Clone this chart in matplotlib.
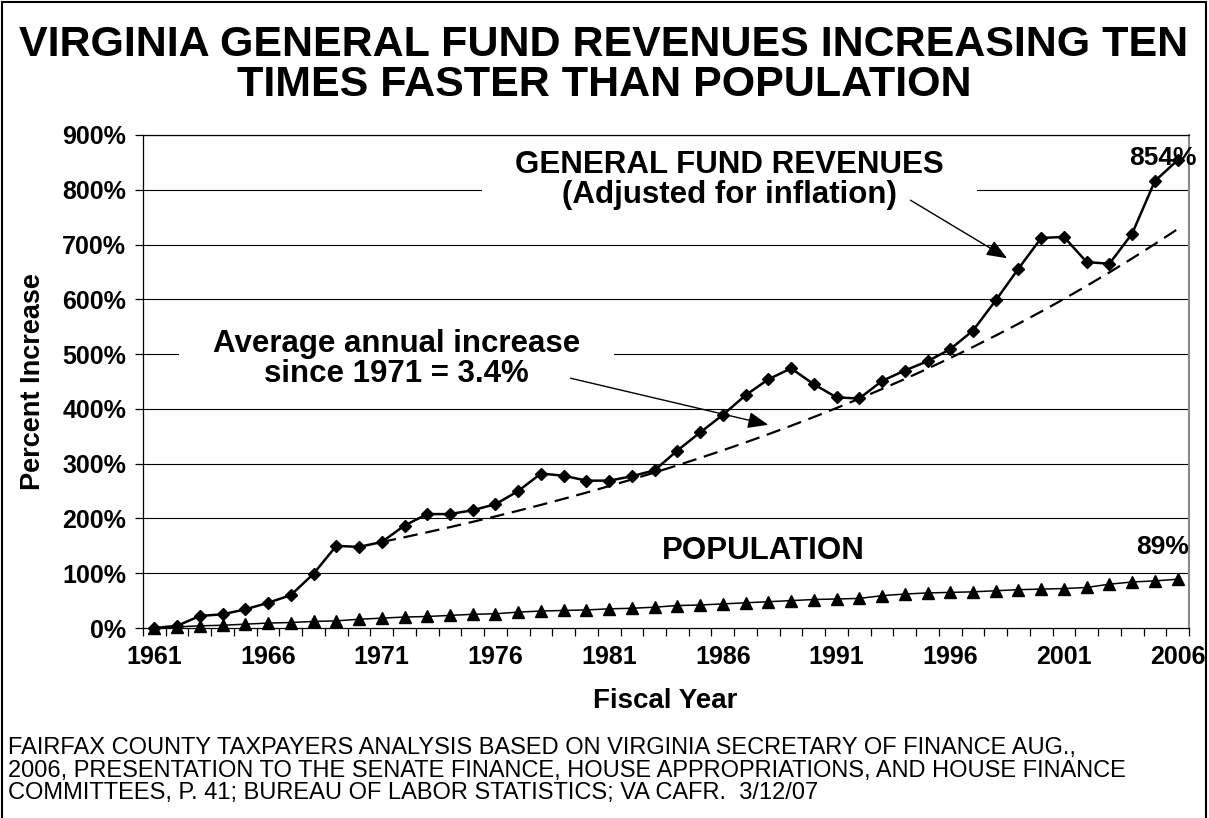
import matplotlib
matplotlib.use("Agg")
import matplotlib.pyplot as plt
from matplotlib.patches import Rectangle
from matplotlib.ticker import FixedLocator, FuncFormatter

# Fiscal years and percent increase since 1961
years = list(range(1961, 2007))
revenue_pct = [0, 4, 22, 25, 34, 46, 60, 99, 150, 148, 157, 187, 208, 208, 215,
               226, 250, 282, 278, 269, 269, 277, 288, 324, 357, 389, 425, 454, 474, 445,
               421, 419, 451, 470, 487, 509, 543, 598, 656, 712, 714, 668, 665, 720, 816, 854]
population_pct = [0, 2, 4, 5, 7, 9, 10, 12, 13, 16, 18, 20, 21, 23, 25,
                  26, 29, 31, 32, 33, 35, 36, 38, 41, 42, 44, 46, 48, 50, 52,
                  53, 54, 59, 62, 64, 65, 66, 68, 70, 71, 72, 74, 80, 84, 86, 89]

# Trend: average annual real growth since 1971
trend_start_year = 1971
trend_rate = 0.034

xtick_labels = [1961, 1966, 1971, 1976, 1981, 1986, 1991, 1996, 2001, 2006]
ytick_values = [0, 100, 200, 300, 400, 500, 600, 700, 800, 900]

FONT = "Liberation Sans"
W, H = 1209, 818
fig = plt.figure(figsize=(W / 100, H / 100), dpi=100)
fig.patch.set_facecolor("white")

# plot area in pixel units
px_l, px_r, px_t, px_b = 143, 1189, 135, 628
ax = fig.add_axes([px_l / W, 1 - px_b / H, (px_r - px_l) / W, (px_b - px_t) / H])
ax.set_xlim(1960.5, 2006.5)
ax.set_ylim(0, 900)

# gridlines
ax.set_axisbelow(True)
for v in ytick_values[1:]:
    ax.axhline(v, color="black", lw=0.8, zorder=1)

# trend line from the stated rate
start_idx = years.index(trend_start_year)
base = revenue_pct[start_idx]
trend_years = years[start_idx:]
trend_vals = [((1 + base / 100) * (1 + trend_rate) ** (y - trend_start_year) - 1) * 100
              for y in trend_years]
ax.plot(trend_years, trend_vals, color="black", lw=1.6, ls=(0, (6.5, 3.5)), zorder=3)

ax.plot(years, revenue_pct, color="black", lw=1.8, marker="D", markersize=6,
        zorder=4, clip_on=False)
ax.plot(years, population_pct, color="black", lw=1.1, marker="^", markersize=8.5,
        zorder=4, clip_on=False)

# axes styling
for side in ["left", "bottom", "top"]:
    ax.spines[side].set_color("black")
    ax.spines[side].set_linewidth(0.9)
ax.spines["right"].set_color("#8a8a8a")
ax.spines["right"].set_linewidth(1.5)

ax.xaxis.set_major_locator(FixedLocator(xtick_labels))
ax.xaxis.set_minor_locator(FixedLocator([y - 0.5 for y in years] + [2006.5]))
ax.tick_params(axis="x", which="major", length=0, pad=12)
ax.tick_params(axis="x", which="minor", length=6, width=0.9, direction="out")
ax.yaxis.set_major_locator(FixedLocator(ytick_values))
ax.yaxis.set_major_formatter(FuncFormatter(lambda v, p: f"{int(v)}%"))
ax.tick_params(axis="y", which="major", length=6, width=0.9, pad=6, direction="out")
for lab in ax.get_xticklabels() + ax.get_yticklabels():
    lab.set_fontfamily(FONT)
    lab.set_fontweight("bold")
    lab.set_fontsize(18)

ax.set_ylabel("Percent Increase", fontfamily=FONT, fontweight="bold", fontsize=19.5)
ax.yaxis.set_label_coords((46 - px_l) / (px_r - px_l), 0.5)
ax.set_xlabel("Fiscal Year", fontfamily=FONT, fontweight="bold", fontsize=20)
ax.xaxis.set_label_coords((665 - px_l) / (px_r - px_l), (px_b - 688) / (px_b - px_t))

# annotations
tk = dict(fontfamily=FONT, fontweight="bold", fontsize=22.5, ha="center", va="center",
          linespacing=1.0, zorder=6)
t_gf = ax.text(1986.3, 818, "GENERAL FUND REVENUES\n(Adjusted for inflation)", **tk)
t_avg = ax.text(1971.65, 491, "Average annual increase\nsince 1971 = 3.4%", **tk)
ax.text(1987.8, 141, "POPULATION", **tk)
ax.text(2005.35, 858, f"{revenue_pct[-1]}%", fontfamily=FONT, fontweight="bold",
        fontsize=19, ha="center", va="center", zorder=6, clip_on=False)
ax.text(2005.35, 148, f"{population_pct[-1]}%", fontfamily=FONT, fontweight="bold",
        fontsize=19, ha="center", va="center", zorder=6, clip_on=False)

arrow = dict(arrowstyle="-|>,head_length=1.25,head_width=0.5", color="black", lw=1.0,
             shrinkA=0, shrinkB=0)
ax.annotate("", xy=(1998.5, 675), xytext=(1994.25, 781), arrowprops=arrow, zorder=6)
ax.annotate("", xy=(1988.0, 371), xytext=(1979.3, 456), arrowprops=arrow, zorder=6)

# title and source note
title_kw = dict(fontfamily=FONT, fontweight="bold", fontsize=31, ha="center", va="center")
fig.text(604 / W, 1 - 45 / H, "VIRGINIA GENERAL FUND REVENUES INCREASING TEN", **title_kw)
fig.text(604 / W, 1 - 85 / H, "TIMES FASTER THAN POPULATION", **title_kw)

note_lines = [
    "FAIRFAX COUNTY TAXPAYERS ANALYSIS BASED ON VIRGINIA SECRETARY OF FINANCE AUG.,",
    "2006, PRESENTATION TO THE SENATE FINANCE, HOUSE APPROPRIATIONS, AND HOUSE FINANCE",
    "COMMITTEES, P. 41; BUREAU OF LABOR STATISTICS; VA CAFR.  3/12/07",
]
for i, line in enumerate(note_lines):
    fig.text(8 / W, 1 - (748 + 22.5 * i) / H, line, fontfamily=FONT, fontsize=17,
             ha="left", va="center")

# figure frame
fig.add_artist(Rectangle((2 / W, -0.01), (W - 5) / W, 1 - 2 / H + 0.01,
                         transform=fig.transFigure, fill=False, edgecolor="black", lw=1.5))

# white panels behind the two text blocks so the gridlines break around them
fig.canvas.draw()
renderer = fig.canvas.get_renderer()
for t, padx in [(t_gf, 33), (t_avg, 34)]:
    bb = t.get_window_extent(renderer)
    ax.add_patch(Rectangle((bb.x0 - padx, bb.y0 - 2), bb.width + 2 * padx, bb.height + 4,
                           transform=None, facecolor="white", edgecolor="none", zorder=2))

fig.savefig("out.png", dpi=100)
